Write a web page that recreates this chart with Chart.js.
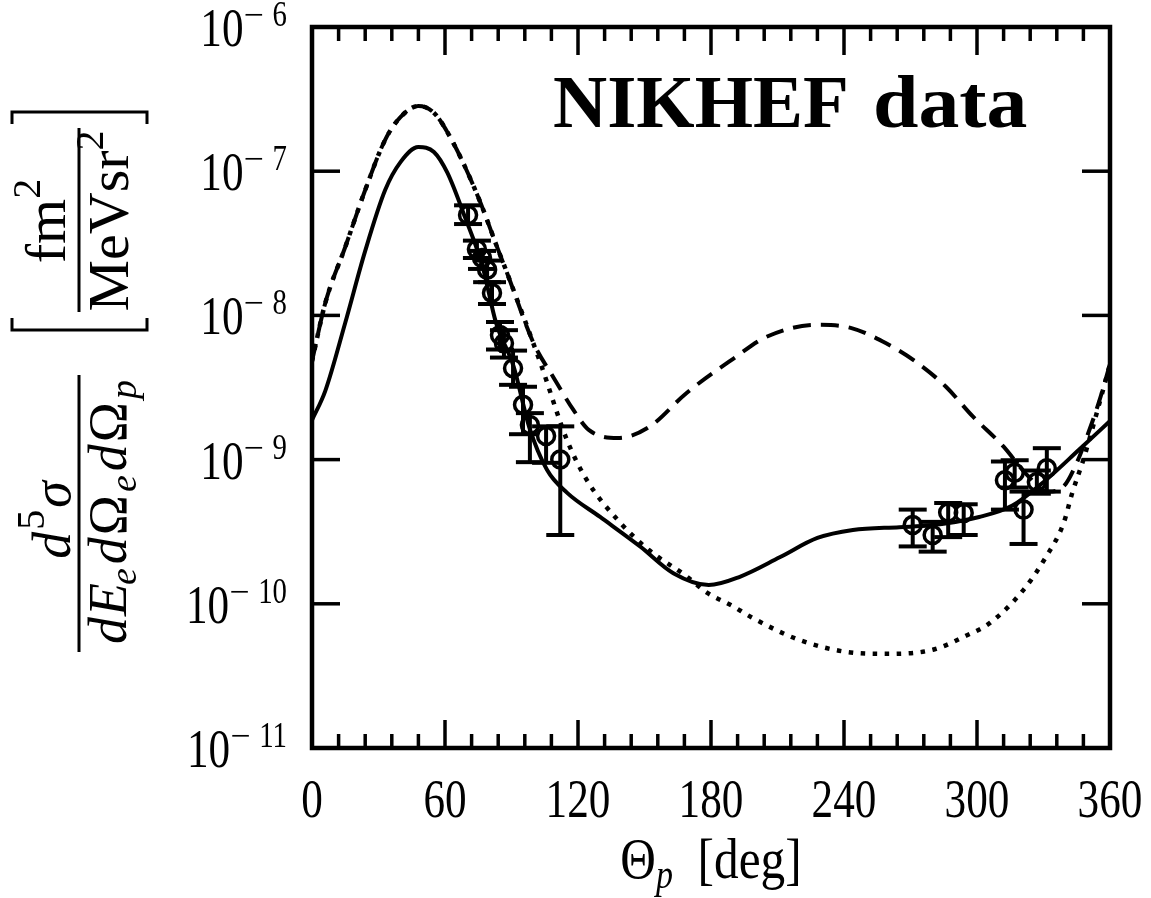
<!DOCTYPE html>
<html>
<head>
<meta charset="utf-8">
<script src="https://cdn.jsdelivr.net/npm/chart.js@4.4.1/dist/chart.umd.min.js"></script>
<style>
  body { margin: 0; background: #fff; }
  canvas { display: block; }
</style>
</head>
<body>
<canvas id="nikhef" width="1151" height="898"></canvas>
<script>
// theory curves (angle in deg, cross section in fm^2/(MeV sr^2))
let solidTheta = [0, 6, 15, 24, 33, 40, 48, 55, 61, 69, 77, 83, 91, 98, 106, 115, 130, 148, 163, 179, 193, 211, 228, 244, 265, 279, 301, 316, 331, 346, 360];
let solidSigma = [1.88e-9, 3.0e-9, 8.9e-9, 2.8e-8, 7.4e-8, 1.16e-7, 1.47e-7, 1.36e-7, 9.8e-8, 4.8e-8, 2.17e-8, 8.9e-9, 4.4e-9, 1.68e-9, 8.5e-10, 5.9e-10, 4.0e-10, 2.5e-10, 1.63e-10, 1.35e-10, 1.54e-10, 2.1e-10, 2.86e-10, 3.25e-10, 3.4e-10, 3.5e-10, 4.0e-10, 4.8e-10, 7.2e-10, 1.17e-9, 1.85e-9];

let dashTheta = [0, 6, 15, 24, 33, 40, 48, 55, 63, 75, 84, 88, 100, 109, 118, 125, 138, 152, 169, 190, 205, 228, 243, 259, 273, 286, 298, 312, 322, 332, 339, 345, 350, 355, 360];
let dashSigma = [4.8e-9, 1.22e-8, 2.98e-8, 7.4e-8, 1.65e-7, 2.38e-7, 2.83e-7, 2.54e-7, 1.65e-7, 6.6e-8, 2.84e-8, 1.97e-8, 6.4e-9, 3.7e-9, 2.2e-9, 1.6e-9, 1.41e-9, 1.68e-9, 2.9e-9, 5.0e-9, 7.1e-9, 8.6e-9, 8.2e-9, 6.4e-9, 4.7e-9, 3.2e-9, 2.0e-9, 1.23e-9, 8.0e-10, 6.0e-10, 6.5e-10, 9.5e-10, 1.5e-9, 2.5e-9, 4.6e-9];

let dotTheta = [0, 6, 15, 24, 33, 40, 48, 55, 63, 75, 84, 88, 103, 115, 124, 138, 152, 169, 178, 190, 198, 220, 243, 259, 280, 295, 306, 321, 331, 339, 343, 348, 354, 360];
let dotSigma = [4.8e-9, 1.22e-8, 2.98e-8, 7.4e-8, 1.65e-7, 2.38e-7, 2.83e-7, 2.54e-7, 1.65e-7, 6.6e-8, 2.84e-8, 1.97e-8, 4.7e-9, 1.37e-9, 7.2e-10, 3.8e-10, 2.36e-10, 1.55e-10, 1.2e-10, 9.6e-11, 8.1e-11, 5.6e-11, 4.6e-11, 4.5e-11, 4.8e-11, 6.0e-11, 7.4e-11, 1.25e-10, 2.1e-10, 3.6e-10, 5.9e-10, 1.0e-9, 2.1e-9, 4.6e-9];

// NIKHEF data points with error bars
let dataTheta = [70.4, 74.4, 76.7, 79.0, 81.2, 84.8, 86.6, 90.7, 95.2, 98.3, 105.6, 112.0, 271, 280, 287, 294, 312.6, 317, 321, 327, 331.5];
let dataSigma = [4.97e-8, 2.88e-8, 2.5e-8, 2.07e-8, 1.43e-8, 7.3e-9, 6.4e-9, 4.3e-9, 2.4e-9, 1.74e-9, 1.46e-9, 1.0e-9, 3.52e-10, 3.0e-10, 4.3e-10, 4.27e-10, 7.2e-10, 8.1e-10, 4.5e-10, 7.0e-10, 8.7e-10];
let errLow = [4.3e-8, 2.5e-8, 2.1e-8, 1.7e-8, 1.2e-8, 5.8e-9, 5.1e-9, 3.3e-9, 1.5e-9, 9.6e-10, 9.5e-10, 3.0e-10, 2.5e-10, 2.3e-10, 2.9e-10, 3.0e-10, 4.5e-10, 6.4e-10, 2.6e-10, 5.8e-10, 6.0e-10];
let errHigh = [5.8e-8, 3.3e-8, 2.8e-8, 2.4e-8, 1.7e-8, 9.0e-9, 7.9e-9, 5.7e-9, 3.2e-9, 2.1e-9, 1.7e-9, 1.7e-9, 4.5e-10, 3.7e-10, 5.0e-10, 4.9e-10, 9.7e-10, 9.9e-10, 6.0e-10, 8.4e-10, 1.2e-9];

// axis ticks
let xTicks = [0, 60, 120, 180, 240, 300, 360];
let yTicks = [1e-6, 1e-7, 1e-8, 1e-9, 1e-10, 1e-11];
let yTickExp = ['6', '7', '8', '9', '10', '11'];

const SERIF = 'Liberation Serif';

function toPoints(xs, ys) {
    return xs.map((t, i) => ({ x: t, y: ys[i] }));
}

// draw a row of text pieces: [text, font, dy, xscale, extra gap after]
function drawRuns(ctx, parts, x, y, align) {
    let w = 0;
    parts.forEach(p => { ctx.font = p[1]; w += ctx.measureText(p[0]).width * (p[3] || 1) + (p[4] || 0); });
    let cx = align === 'right' ? x - w : align === 'center' ? x - w / 2 : x;
    parts.forEach(p => {
        ctx.font = p[1];
        const s = p[3] || 1;
        const pw = ctx.measureText(p[0]).width * s;
        ctx.save();
        ctx.translate(cx, y + (p[2] || 0));
        ctx.scale(s, 1);
        ctx.fillText(p[0], 0, 0);
        ctx.restore();
        cx += pw + (p[4] || 0);
    });
}

function line(ctx, x1, y1, x2, y2) {
    ctx.beginPath();
    ctx.moveTo(x1, y1);
    ctx.lineTo(x2, y2);
    ctx.stroke();
}

const errorBars = {
    id: 'errorBars',
    afterDatasetsDraw(chart) {
        const { ctx, scales: { x, y } } = chart;
        ctx.save();
        ctx.strokeStyle = '#000';
        ctx.lineWidth = 4;
        dataTheta.forEach((t, i) => {
            const px = x.getPixelForValue(t);
            const lo = y.getPixelForValue(errLow[i]);
            const hi = y.getPixelForValue(errHigh[i]);
            line(ctx, px, lo, px, hi);
            line(ctx, px - 14, lo, px + 14, lo);
            line(ctx, px - 14, hi, px + 14, hi);
        });
        ctx.restore();
    }
};

const frameAndText = {
    id: 'frameAndText',
    afterDraw(chart) {
        const { ctx, chartArea: a, scales: { x, y } } = chart;
        ctx.save();
        ctx.strokeStyle = '#000';
        ctx.fillStyle = '#000';
        ctx.lineCap = 'butt';

        // inward ticks
        ctx.lineWidth = 3.5;
        for (let t = 0; t <= 360; t += 12) {
            const px = x.getPixelForValue(t);
            const len = xTicks.includes(t) ? 28 : 14;
            line(ctx, px, a.bottom, px, a.bottom - len);
            line(ctx, px, a.top, px, a.top + len);
        }
        yTicks.forEach(v => {
            const py = y.getPixelForValue(v);
            line(ctx, a.left, py, a.left + 28, py);
            line(ctx, a.right, py, a.right - 28, py);
        });

        // frame
        ctx.lineWidth = 4.5;
        ctx.strokeRect(a.left, a.top, a.right - a.left, a.bottom - a.top);

        // tick labels
        ctx.textBaseline = 'alphabetic';
        xTicks.forEach(t => {
            drawRuns(ctx, [[String(t), '54px ' + SERIF, 0, 0.8]], x.getPixelForValue(t), a.bottom + 69, 'center');
        });
        yTicks.forEach((v, i) => {
            const py = y.getPixelForValue(v);
            drawRuns(ctx, [
                ['10', '54px ' + SERIF, 0, 0.8],
                ['\u2212 ', '34px ' + SERIF, -20, 1.05],
                [yTickExp[i], '36px ' + SERIF, -20, 0.8]
            ], 287, py + 19, 'right');
        });

        // x title
        drawRuns(ctx, [
            ['\u0398', '58px ' + SERIF, 0, 0.85],
            ['p', 'italic 40px ' + SERIF, 10, 0.85],
            ['  [deg]', '58px ' + SERIF, 0, 0.85]
        ], (a.left + a.right) / 2, 878, 'center');

        // big label
        ctx.font = 'bold 75px ' + SERIF;
        ctx.fillText('NIKHEF', 553, 127);
        drawRuns(ctx, [['data', 'bold 75px ' + SERIF, 0, 1.09]], 873, 127, 'left');

        // y title, rotated
        ctx.save();
        ctx.rotate(-Math.PI / 2);
        const it = 'italic 54px ' + SERIF, rm = '54px ' + SERIF;
        const sit = 'italic 38px ' + SERIF, srm = '40px ' + SERIF;
        drawRuns(ctx, [['d', it, 0, 1, 2], ['5', srm, -26, 1, 2], ['\u03C3', it]], -520, 70, 'center');
        drawRuns(ctx, [
            ['d', it, 0, 1, 1], ['E', it, 0, 1, -2], ['e', sit, 10, 1, 4], ['d', it, 0, 1, 2], ['\u03A9', rm, 0, 1, 3], ['e', sit, 10, 1, 4],
            ['d', it, 0, 1, 2], ['\u03A9', rm, 0, 1, 3], ['p', sit, 10]
        ], -512, 126, 'center');
        drawRuns(ctx, [['fm', '58px ' + SERIF], ['2', srm, -25]], -221, 65, 'center');
        drawRuns(ctx, [['MeV', '58px ' + SERIF], ['sr', '58px ' + SERIF], ['2', srm, -25]], -221, 128, 'center');
        ctx.restore();

        ctx.lineWidth = 3;
        line(ctx, 79, 375, 79, 652);
        line(ctx, 79, 128, 79, 312);
        // brackets
        ctx.beginPath();
        ctx.moveTo(12, 124); ctx.lineTo(12, 112); ctx.lineTo(147, 112); ctx.lineTo(147, 124);
        ctx.moveTo(12, 318); ctx.lineTo(12, 330); ctx.lineTo(147, 330); ctx.lineTo(147, 318);
        ctx.stroke();

        ctx.restore();
    }
};

new Chart(document.getElementById('nikhef'), {
    type: 'line',
    data: {
        datasets: [{
            label: 'full',
            data: toPoints(solidTheta, solidSigma),
            borderColor: '#000',
            borderWidth: 4,
            pointRadius: 0,
            cubicInterpolationMode: 'monotone'
        }, {
            label: 'dashed',
            data: toPoints(dashTheta, dashSigma),
            borderColor: '#000',
            borderWidth: 4,
            borderDash: [18, 10],
            pointRadius: 0,
            cubicInterpolationMode: 'monotone'
        }, {
            label: 'dotted',
            data: toPoints(dotTheta, dotSigma),
            borderColor: '#000',
            borderWidth: 4.5,
            borderDash: [4.5, 7.5],
            pointRadius: 0,
            cubicInterpolationMode: 'monotone'
        }, {
            label: 'NIKHEF data',
            data: toPoints(dataTheta, dataSigma),
            showLine: false,
            pointStyle: 'circle',
            pointRadius: 8.5,
            pointBorderWidth: 3.5,
            pointBorderColor: '#000',
            pointBackgroundColor: 'rgba(0,0,0,0)'
        }]
    },
    options: {
        responsive: false,
        animation: false,
        devicePixelRatio: 1,
        layout: { padding: { left: 312, top: 27, right: 41, bottom: 150 } },
        plugins: { legend: { display: false }, tooltip: { enabled: false } },
        scales: {
            x: { type: 'linear', min: 0, max: 360, display: false },
            y: { type: 'logarithmic', min: 1e-11, max: 1e-6, display: false }
        }
    },
    plugins: [errorBars, frameAndText]
});
</script>
</body>
</html>
